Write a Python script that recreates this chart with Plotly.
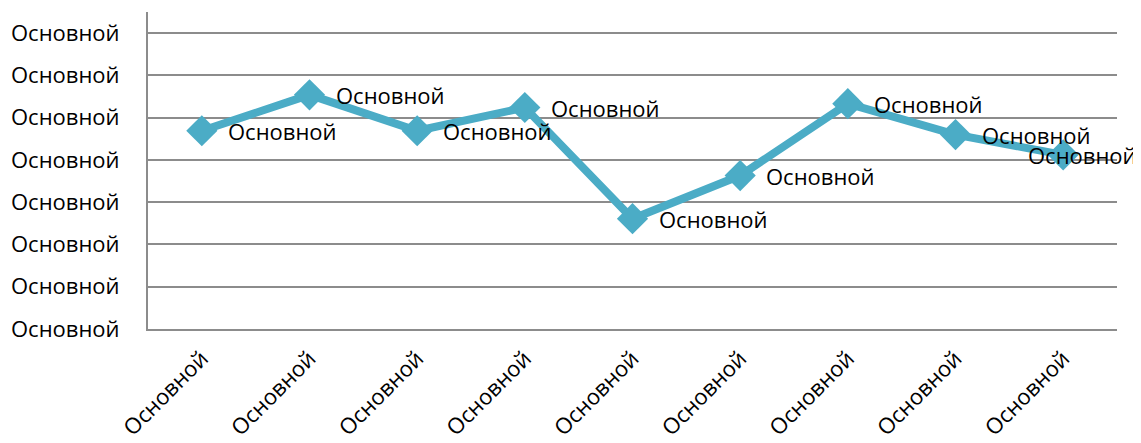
import plotly.graph_objects as go

categories = ["Основной"] * 9
values = [4.69, 5.54, 4.69, 5.24, 2.61, 3.63, 5.33, 4.60, 4.12]
data_labels = ["Основной"] * 9
y_tick_vals = [0, 1, 2, 3, 4, 5, 6, 7]
y_tick_text = ["Основной"] * 8

x_idx = list(range(len(categories)))
color = "#4BACC6"
font_family = "'Open Sans', sans-serif"
fsize = 22

fig = go.Figure()
fig.add_trace(go.Scatter(
    x=x_idx, y=values, mode="lines+markers",
    line=dict(color=color, width=8),
    marker=dict(symbol="diamond", size=24, color=color),
    cliponaxis=False, hoverinfo="skip", showlegend=False,
))

for i, (v, t) in enumerate(zip(values, data_labels)):
    shift = 24 if i < len(values) - 1 else -37
    fig.add_annotation(x=i, y=v, text=t, showarrow=False, xanchor="left",
                       yanchor="middle", xshift=shift,
                       font=dict(size=fsize, color="#000", family=font_family))

fig.update_layout(
    width=1125, height=427,
    margin=dict(l=140, r=16, t=4, b=106, autoexpand=False),
    paper_bgcolor="white", plot_bgcolor="white",
    font=dict(family=font_family, size=fsize, color="#000"),
    xaxis=dict(
        range=[-0.5, 8.5], tickvals=x_idx, ticktext=categories,
        tickangle=-45, showgrid=False, zeroline=False,
        showline=True, linecolor="#8c8c8c", linewidth=2,
        ticks="", ticklabelstandoff=6, automargin=False,
    ),
    yaxis=dict(
        range=[0, 7.5], tickvals=y_tick_vals, ticktext=y_tick_text,
        showgrid=True, gridcolor="#8c8c8c", gridwidth=2, zeroline=False,
        showline=True, linecolor="#8c8c8c", linewidth=2,
        ticks="", ticklabelstandoff=22, automargin=False,
    ),
)

fig.write_html("out.html")
